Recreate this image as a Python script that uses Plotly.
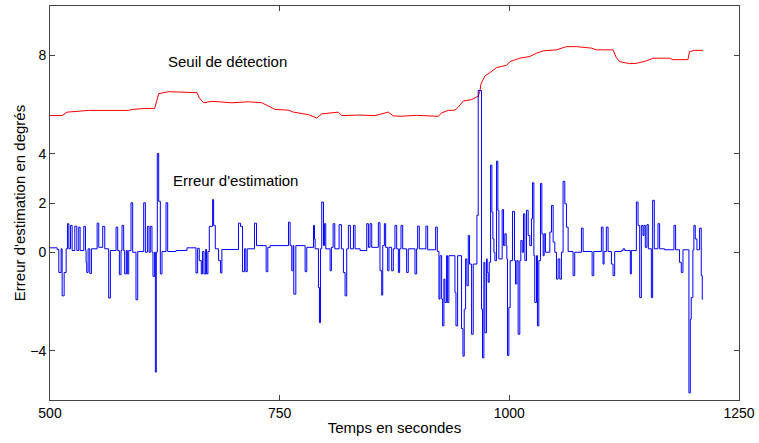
import plotly.graph_objects as go

# ── Data ──────────────────────────────────────────────────────────────────────

seuil_t = [500, 513.2, 518.6, 542.2, 585.7, 589.3, 603.8, 613.9, 618.3, 629.2,
           660.0, 662.5, 667.2, 676.3, 698.0, 716.1, 730.6, 745.1, 759.6, 765.0,
           781.3, 790.4, 795.8, 813.9, 817.5, 835.7, 853.8, 868.3, 873.7, 881.0,
           899.1, 922.7, 926.3, 933.5, 940.8, 944.4, 949.8, 958.9, 966.1, 968.0,
           969.0, 973.4, 978.8, 986.1, 996.9, 1000.6, 1011.4, 1022.3, 1029.5, 1036.8,
           1051.3, 1062.2, 1073.0, 1089.3, 1094.8, 1112.9, 1116.5, 1120.1, 1131.0, 1138.2,
           1149.1, 1156.3, 1174.5, 1178.1, 1194.4, 1196.2, 1201.6, 1210.7]
seuil_v = [5.55, 5.55, 5.69, 5.76, 5.76, 5.80, 5.84, 5.84, 6.44, 6.52,
           6.48, 6.27, 6.07, 6.13, 6.07, 6.11, 6.07, 5.80, 5.77, 5.69,
           5.59, 5.45, 5.62, 5.69, 5.55, 5.57, 5.55, 5.69, 5.54, 5.52,
           5.56, 5.52, 5.66, 5.76, 5.77, 5.89, 6.14, 6.20, 6.34, 6.54,
           6.82, 7.16, 7.29, 7.50, 7.59, 7.74, 7.88, 7.95, 8.08, 8.18,
           8.22, 8.35, 8.35, 8.29, 8.22, 8.22, 7.90, 7.74, 7.66, 7.67,
           7.77, 7.88, 7.88, 7.82, 7.82, 8.15, 8.20, 8.20]

erreur_t = [500, 507.8, 509.6, 512.1, 513.2, 515.4, 517.6, 519.0, 520.5, 522.3,
            524.1, 527.0, 529.2, 531.3, 532.8, 536.8, 538.6, 539.3, 540.0, 541.5,
            543.3, 545.1, 551.3, 553.1, 557.4, 559.6, 563.9, 565.7, 571.9, 573.7,
            575.5, 577.3, 578.4, 580.2, 581.3, 583.1, 584.2, 585.7, 588.2, 590.0,
            593.6, 595.5, 602.0, 603.8, 606.0, 607.8, 609.2, 611.0, 612.1, 613.9,
            614.7, 615.7, 616.8, 618.3, 620.1, 621.9, 626.3, 628.1, 637.1, 649.1,
            658.9, 660.7, 662.5, 664.7, 666.1, 667.6, 669.4, 670.4, 671.9, 673.4,
            677.0, 678.1, 679.9, 683.5, 685.7, 687.1, 705.2, 707.4, 709.6, 711.8,
            713.2, 714.7, 722.6, 724.8, 735.3, 737.1, 739.7, 759.6, 761.4, 763.2,
            764.7, 765.4, 767.6, 777.7, 779.5, 786.8, 787.9, 788.6, 792.2, 793.3,
            794.4, 795.8, 797.7, 798.7, 800.2, 804.9, 806.3, 808.2, 810.0, 814.7,
            817.2, 819.4, 821.2, 823.0, 824.8, 827.0, 830.3, 832.1, 837.5, 844.8,
            846.6, 848.4, 850.2, 857.4, 859.2, 861.1, 862.2, 864.0, 865.4, 867.6,
            869.0, 871.9, 873.7, 875.5, 877.4, 879.2, 880.6, 882.1, 883.9, 888.2,
            890.0, 897.3, 899.1, 900.2, 902.0, 909.2, 911.1, 919.8, 921.6, 923.4,
            924.5, 926.3, 927.4, 928.8, 929.9, 931.7, 932.8, 934.2, 940.8, 941.9,
            943.7, 948.0, 949.5, 950.9, 952.4, 953.8, 955.3, 956.7, 958.9, 960.7,
            964.7, 966.1, 969.7, 970.8, 972.3, 973.4, 975.2, 975.9, 977.0, 978.1,
            979.6, 981.0, 982.1, 983.2, 984.3, 986.1, 987.5, 988.6, 992.2, 993.7,
            995.1, 996.6, 997.3, 998.0, 999.5, 1000.9, 1003.5, 1005.6, 1006.7, 1008.2,
            1009.6, 1011.4, 1012.5, 1014.0, 1015.4, 1016.9, 1018.7, 1020.5, 1022.3, 1024.1,
            1025.2, 1026.7, 1027.7, 1029.6, 1030.6, 1032.1, 1033.9, 1035.4, 1036.8, 1037.9,
            1039.3, 1044.1, 1045.9, 1047.7, 1049.5, 1051.3, 1053.1, 1054.9, 1056.7, 1058.5,
            1060.4, 1062.2, 1064.0, 1069.4, 1071.2, 1078.5, 1080.3, 1090.1, 1091.9, 1100.2,
            1102.0, 1103.1, 1105.6, 1107.5, 1111.1, 1112.9, 1114.7, 1122.0, 1123.8, 1125.6,
            1131.7, 1132.8, 1138.3, 1140.1, 1141.9, 1143.7, 1145.5, 1146.6, 1148.0, 1149.8,
            1151.3, 1154.6, 1156.0, 1157.8, 1161.8, 1163.6, 1169.0, 1179.2, 1181.0, 1185.3,
            1187.2, 1189.0, 1195.5, 1197.0, 1198.0, 1199.8, 1200.9, 1202.4, 1204.2, 1207.1,
            1208.9, 1210.0, 1211.0]
erreur_v = [0.18, 0.11, -0.82, 0.14, -1.77, -0.82, 0.14, 1.16, 0.14, 1.09,
            0.07, 1.06, 0.07, 1.02, 0.07, 1.05, 0.07, -0.41, -0.82, 0.14,
            -0.86, 0.14, 1.18, 0.20, 1.05, 0.14, -1.86, 0.07, 1.02, 0.07,
            -0.91, 0.07, 1.09, 0.07, -0.88, 0.07, -0.88, 0.07, 2.01, 0.00,
            -1.93, 0.03, 2.01, 0.00, 1.05, 0.00, 1.05, 0.00, -0.98, 0.00,
            -4.87, 0.00, 4.01, 2.07, -0.88, 0.03, 2.01, 0.03, 0.07, 0.18,
            -0.84, 0.16, -0.34, -0.88, 0.03, -0.88, 0.11, -0.88, 0.03, 1.05,
            2.14, 1.09, 0.14, -0.34, -0.84, 0.11, 1.18, 1.05, -0.79, 0.14,
            -0.79, 0.14, 1.18, 0.27, -0.79, 0.20, 0.27, 1.22, 0.27, -0.75,
            0.27, -1.70, 0.27, -0.79, 0.20, 1.09, 0.54, 0.14, -1.43, -2.86,
            0.14, 2.04, 0.27, 1.16, 0.14, -0.75, 0.20, 1.16, 0.14, 1.12,
            0.14, -0.82, -1.77, 0.14, 1.09, 0.14, 1.09, 0.14, 0.07, 1.16,
            0.20, 1.16, 0.20, 1.20, -0.75, -1.74, 0.27, 1.16, 0.20, -0.75,
            0.20, -0.75, 0.14, 1.09, 0.14, -0.82, 0.14, 1.09, 0.14, -0.82,
            0.14, -0.88, 0.14, 1.06, 0.14, 1.06, 0.10, 1.02, 0.03, -1.90,
            -0.14, -1.90, -2.99, -1.09, -2.04, -0.14, -2.04, -0.14, -1.63, -2.99,
            -0.14, -3.10, -4.22, -2.31, -0.27, -1.36, 0.68, -0.48, -3.33, -0.48,
            1.50, 6.57, -2.31, -4.29, -0.41, -3.27, -0.27, -0.82, -1.22, -0.41,
            3.54, 1.63, 0.54, 0.00, -0.34, 3.70, 1.70, -0.27, 1.73, 0.27,
            0.75, 0.27, -0.27, -4.19, -2.24, -0.34, 1.66, -0.34, -1.29, -0.34,
            -3.33, -0.34, 0.48, 0.00, 1.56, -0.34, 1.70, 0.68, 0.27, 1.36,
            2.82, -0.14, -2.04, -0.14, -2.99, -0.34, 2.79, 0.75, -0.14, 0.75,
            0.00, 0.82, 1.90, 0.41, 0.00, -1.09, -0.27, -1.09, 0.00, 2.88,
            1.97, 1.02, 0.03, -0.95, 0.00, 0.98, 0.03, -0.95, 0.03, 1.02,
            -0.48, 0.03, 1.02, 0.03, -0.48, -0.95, 0.03, 0.07, 0.14, 0.07,
            -0.88, 0.07, 2.04, 1.09, -1.84, 1.09, 0.68, 1.09, 0.20, 1.12,
            0.14, -1.84, 2.11, 0.14, 1.16, 0.14, 0.10, 1.09, 0.10, -0.41,
            -0.82, 0.10, -5.71, -2.72, -1.84, 0.10, 1.09, 0.54, 0.10, 0.98,
            -0.95, -1.90, -1.90]

x_ticks = [500, 750, 1000, 1250]
y_ticks = [-4, 0, 2, 4, 8]

_FONT = dict(family="Liberation Sans, Arial, sans-serif", size=14, color="black")
_TITLE_FONT = dict(_FONT, size=15)
_AXIS = dict(
    showline=True, linecolor="#444", linewidth=1, mirror="ticks",
    ticks="inside", ticklen=5, tickcolor="#444",
    showgrid=False, zeroline=False, tickfont=_FONT, automargin=False,
)

# ── Figure ────────────────────────────────────────────────────────────────────

fig = go.Figure()
fig.add_scatter(
    x=seuil_t, y=seuil_v, mode="lines",
    line=dict(color="#ff0000", width=1),
    name="Seuil de détection",
)
fig.add_scatter(
    x=erreur_t, y=erreur_v, mode="lines", line_shape="hv",
    line=dict(color="#0000ff", width=1),
    name="Erreur d'estimation",
)

fig.add_annotation(x=626, y=7.76, text="Seuil de détection", showarrow=False,
                   xanchor="left", yanchor="middle", font=_TITLE_FONT)
fig.add_annotation(x=632, y=2.9, text="Erreur d'estimation", showarrow=False,
                   xanchor="left", yanchor="middle", font=_TITLE_FONT)

fig.update_layout(
    width=759, height=443,
    margin=dict(l=50, r=20, t=6, b=43),
    paper_bgcolor="white", plot_bgcolor="white",
    showlegend=False,
    font=_FONT,
    xaxis=dict(_AXIS, range=[500, 1250], tickvals=x_ticks,
               title=dict(text="Temps en secondes", font=_TITLE_FONT, standoff=2)),
    yaxis=dict(_AXIS, range=[-6, 10], tickvals=y_ticks,
               title=dict(text="Erreur d'estimation en degrés", font=_TITLE_FONT, standoff=0)),
)

fig.write_html(
    "out.html",
    config={"displayModeBar": False},
    post_script="document.body.style.margin='0';",
)
